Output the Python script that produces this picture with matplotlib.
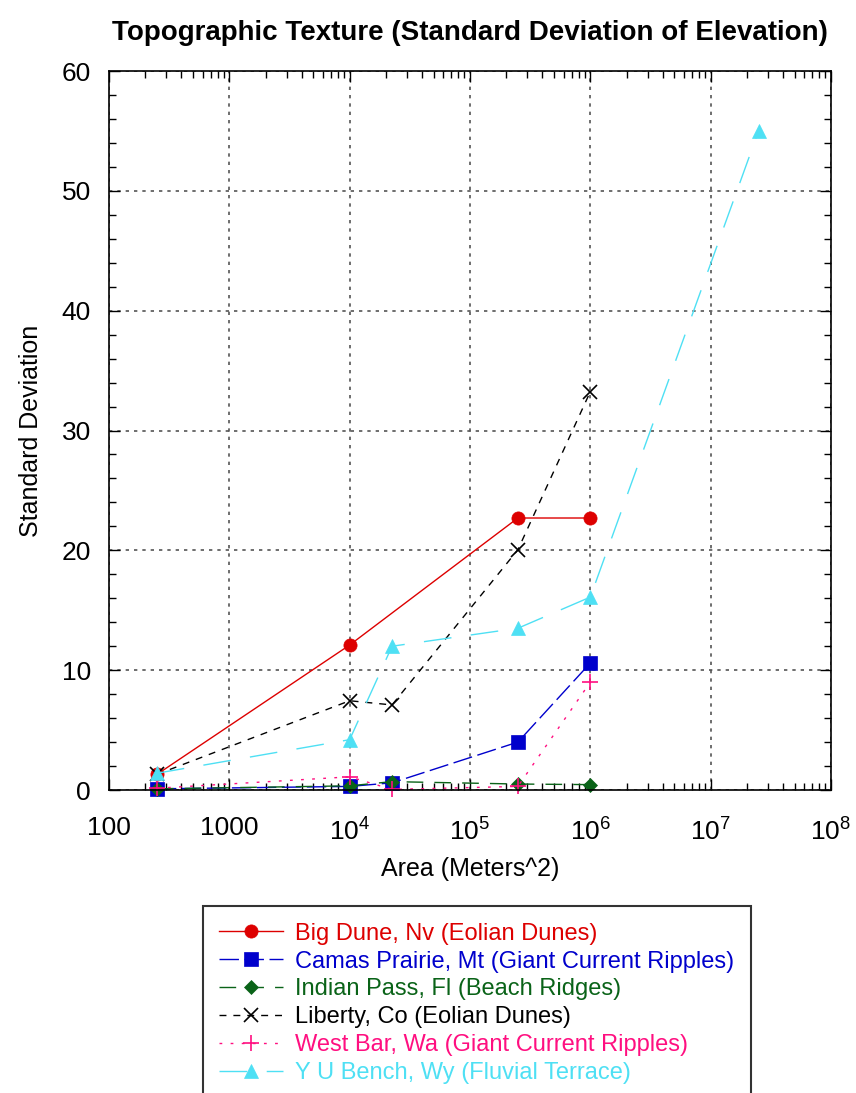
import matplotlib
matplotlib.use("Agg")
import matplotlib.pyplot as plt
from matplotlib.ticker import FixedLocator, LogLocator, MultipleLocator, NullFormatter

plt.rcParams["font.family"] = ["Liberation Sans", "DejaVu Sans"]
plt.rcParams["mathtext.fontset"] = "custom"
plt.rcParams["mathtext.rm"] = "Liberation Sans"

# sample window areas (m^2)
AREA = [250, 1e4, 2.25e4, 2.5e5, 1e6]
AREA_YU = [250, 1e4, 2.25e4, 2.5e5, 1e6, 2.5e7]

BIG_DUNE = [1.3, 12.1, None, 22.7, 22.7]
CAMAS = [0.1, 0.3, 0.6, 4.0, 10.6]
INDIAN_PASS = [0.1, 0.35, 0.7, 0.5, 0.45]
LIBERTY = [1.3, 7.45, 7.1, 20.05, 33.25]
WEST_BAR = [0.15, 1.1, 0.05, 0.3, 9.0]
YU_BENCH = [1.4, 4.2, 12.0, 13.5, 16.1, 55.0]

XTICKS = [1e2, 1e3, 1e4, 1e5, 1e6, 1e7, 1e8]
XTICK_LABELS = ["100", "1000", r"$10^{4}$", r"$10^{5}$", r"$10^{6}$", r"$10^{7}$", r"$10^{8}$"]


def pairs(xs, ys):
    pts = [(x, y) for x, y in zip(xs, ys) if y is not None]
    return [p[0] for p in pts], [p[1] for p in pts]


SERIES = [
    ("Big Dune, Nv (Eolian Dunes)", AREA, BIG_DUNE, "#dd0000", "o", 9.5, None),
    ("Camas Prairie, Mt (Giant Current Ripples)", AREA, CAMAS, "#0000cc", "s", 9.5, (14, 4)),
    ("Indian Pass, Fl (Beach Ridges)", AREA, INDIAN_PASS, "#0a6318", "D", 7.5, (12, 8)),
    ("Liberty, Co (Eolian Dunes)", AREA, LIBERTY, "black", "x", 10, (5, 5)),
    ("West Bar, Wa (Giant Current Ripples)", AREA, WEST_BAR, "#ff0f80", "+", 11, (2, 6)),
    ("Y U Bench, Wy (Fluvial Terrace)", AREA_YU, YU_BENCH, "#4ee0f4", "^", 9.5, (20, 14)),
]

fig = plt.figure(figsize=(8.56, 10.93), dpi=100)
ax = fig.add_axes([0.1273, 0.2772, 0.8435, 0.6578])

for label, xs, ys, color, marker, ms, dashes in SERIES:
    x, y = pairs(xs, ys)
    line, = ax.plot(x, y, color=color, marker=marker, markersize=ms, linewidth=1.0,
                    markeredgewidth=1.2 if marker in ("x", "+") else 0.5,
                    markeredgecolor=color, label=label, clip_on=False)
    if dashes:
        line.set_dashes(dashes)

ax.set_xscale("log")
ax.set_xlim(1e2, 1e8)
ax.set_ylim(0, 60)
ax.xaxis.set_major_locator(FixedLocator(XTICKS))
ax.set_xticklabels(XTICK_LABELS)
ax.xaxis.set_minor_locator(LogLocator(base=10, subs=range(2, 10), numticks=20))
ax.xaxis.set_minor_formatter(NullFormatter())
ax.yaxis.set_major_locator(MultipleLocator(10))
ax.yaxis.set_minor_locator(MultipleLocator(2))

ax.tick_params(which="both", direction="in", top=True, right=True, labelsize=19, colors="black")
ax.tick_params(which="major", length=8, width=1)
ax.tick_params(which="minor", length=5, width=1)
ax.tick_params(axis="x", pad=19)
ax.tick_params(axis="y", pad=13)
ax.grid(True, which="major", color="#555555", linestyle=(0, (2, 3)), linewidth=1.2)
for s in ax.spines.values():
    s.set_linewidth(1.2)

ax.set_title("Topographic Texture (Standard Deviation of Elevation)", fontsize=20,
             fontweight="bold", pad=22)
ax.set_xlabel("Area (Meters^2)", fontsize=18, labelpad=9)
ax.set_ylabel("Standard Deviation", fontsize=18, labelpad=13)

leg = fig.legend(loc="upper left", bbox_to_anchor=(0.237, 0.171), fontsize=17,
                 frameon=True, fancybox=False, edgecolor="black", handlelength=2.7,
                 labelspacing=0.25, borderpad=0.7, handletextpad=0.5, borderaxespad=0)
leg.get_frame().set_linewidth(1.5)
for text, (_, _, _, color, _, _, _) in zip(leg.get_texts(), SERIES):
    text.set_color(color)

fig.savefig("out.png", dpi=100)
